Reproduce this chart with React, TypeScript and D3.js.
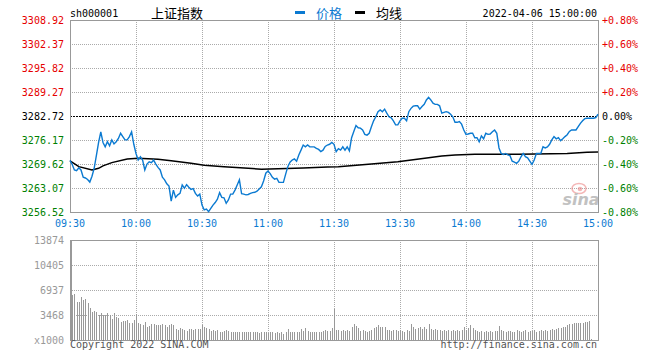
import { line, scaleLinear } from 'd3';

const timeLabels = ['09:30', '10:00', '10:30', '11:00', '11:30', '13:30', '14:00', '14:30', '15:00'];
const priceTicks = [3308.92, 3302.37, 3295.82, 3289.27, 3282.72, 3276.17, 3269.62, 3263.07, 3256.52];
const pctTicks = ['+0.80%', '+0.60%', '+0.40%', '+0.20%', '0.00%', '-0.20%', '-0.40%', '-0.60%', '-0.80%'];
const volumeTicks = ['13874', '10405', '6937', '3468', 'x1000'];
const volumeMax = 13874;
const prevClose = 3282.72;

// minute index (0 = 09:30, 120 = 11:30/13:00, 240 = 15:00) -> price
const priceValues = [
  3270.6, 3269.5, 3268.0, 3267.8, 3268.6, 3268.0, 3266.0, 3265.8, 3265.4, 3264.7,
  3266.3, 3268.5, 3272.0, 3275.5, 3278.4, 3275.5, 3274.3, 3275.7, 3274.6, 3276.2,
  3275.1, 3275.7, 3276.6, 3278.0, 3277.1, 3276.2, 3276.2, 3277.1, 3278.4, 3275.0,
  3272.5, 3270.7, 3271.6, 3270.7, 3268.0, 3269.6, 3270.2, 3270.0, 3270.7, 3269.6,
  3268.7, 3268.0, 3266.0, 3265.3, 3264.2, 3263.6, 3259.5, 3262.5, 3260.5, 3261.2,
  3261.6, 3263.9, 3263.0, 3264.0, 3263.3, 3262.7, 3262.9, 3261.6, 3260.9, 3261.4,
  3258.4, 3257.1, 3257.3, 3256.6, 3257.5, 3258.4, 3259.1, 3260.0, 3261.8, 3260.5,
  3260.4, 3258.9, 3259.8, 3261.4, 3261.4, 3262.5, 3263.9, 3265.3, 3261.5, 3261.4,
  3261.2, 3261.3, 3261.6, 3261.8, 3261.9, 3262.2, 3262.8, 3263.4, 3265.0, 3267.1,
  3267.7, 3267.0, 3266.0, 3265.5, 3265.7, 3264.6, 3264.6, 3264.6, 3266.8, 3268.9,
  3270.1, 3270.7, 3271.0, 3270.4, 3272.1, 3273.4, 3274.8, 3274.3, 3274.8, 3274.3,
  3274.3, 3274.3, 3273.9, 3273.6, 3273.0, 3273.4, 3274.4, 3274.8, 3275.0, 3275.5,
  3275.0, 3273.0, 3273.8, 3273.4, 3274.3, 3273.4, 3274.3, 3273.2, 3276.8, 3278.5,
  3280.1, 3279.5, 3279.4, 3278.9, 3277.7, 3277.5, 3278.0, 3279.8, 3281.4, 3282.5,
  3283.9, 3284.4, 3283.9, 3284.6, 3283.5, 3282.5, 3282.2, 3281.4, 3280.3, 3280.3,
  3281.4, 3282.1, 3282.1, 3281.4, 3283.9, 3284.8, 3285.4, 3285.5, 3285.5, 3284.6,
  3285.3, 3285.9, 3287.1, 3287.8, 3287.1, 3286.2, 3285.9, 3285.9, 3285.5, 3283.5,
  3283.7, 3283.9, 3283.7, 3283.2, 3282.5, 3281.0, 3281.0, 3281.2, 3280.5, 3278.9,
  3277.7, 3277.8, 3278.0, 3278.0, 3276.8, 3276.8, 3275.7, 3277.3, 3276.5, 3278.0,
  3277.7, 3277.8, 3278.4, 3278.9, 3278.0, 3274.0, 3272.5, 3272.2, 3272.5, 3272.1,
  3271.9, 3270.4, 3270.1, 3269.8, 3270.4, 3271.6, 3272.5, 3271.6, 3271.3, 3270.4,
  3269.5, 3270.7, 3272.5, 3272.5, 3272.5, 3274.3, 3274.0, 3274.3, 3275.0, 3276.2,
  3277.1, 3276.5, 3276.8, 3276.0, 3276.5, 3277.1, 3277.6, 3278.5, 3278.9, 3278.9,
  3278.9, 3279.8, 3280.7, 3281.4, 3282.0, 3282.1, 3282.1, 3282.1, 3282.1, 3282.3,
  3283.2,
];

const avgMinutes = [0, 4, 10, 13, 15, 19, 26, 31, 40, 46, 55, 61, 70, 81, 87, 106, 117, 122, 137, 149, 163, 169, 175, 184, 204, 226, 235, 240];
const avgValues = [
  3270.5, 3268.9, 3268.0, 3268.45, 3269.1, 3270.0, 3271.0, 3271.2, 3270.9, 3270.5,
  3269.8, 3269.3, 3268.9, 3268.45, 3268.2, 3268.5, 3268.8, 3268.9, 3269.6, 3270.25,
  3271.3, 3271.8, 3272.1, 3272.3, 3272.3, 3272.5, 3272.8, 3272.9,
];

const volumes = [
  7400, 6240, 6380, 5230, 5280, 5970, 5550, 5690, 5090, 4480,
  3840, 4020, 3840, 3470, 3700, 3470, 3470, 3700, 3470, 2960,
  3700, 3240, 3010, 2540, 2630, 2680, 2770, 2310, 2310, 2770,
  3610, 2310, 2170, 2080, 2450, 1850, 1900, 2200, 2200, 2150,
  2150, 2080, 2200, 2080, 1850, 2080, 2220, 2150, 1530, 1390,
  1620, 1530, 1390, 1250, 1530, 1530, 1390, 1530, 1530, 1480,
  2150, 1850, 1700, 1530, 1250, 1390, 1250, 1320, 1160, 1110,
  1250, 1390, 1300, 1110, 1160, 1160, 1160, 1110, 1160, 1160,
  1160, 1160, 1110, 1160, 1060, 1110, 1010, 1110, 1110, 1060,
  1000, 1110, 1110, 1000, 1110, 1000, 1060, 860, 1110, 1530,
  1110, 1110, 1160, 1110, 1160, 1530, 1250, 1620, 1250, 1160,
  1110, 1110, 1110, 1110, 1160, 1250, 1390, 1250, 1250, 1620,
  4300, 1390, 1390, 1250, 1390, 1250, 1390, 1300, 1850, 2220,
  1900, 1620, 1300, 1390, 1250, 1160, 1250, 1390, 1620, 1850,
  2150, 1850, 1850, 1850, 1390, 1390, 1250, 1390, 1390, 1250,
  1390, 1250, 1160, 1390, 1250, 2220, 1850, 1530, 1620, 1850,
  1530, 1850, 1530, 2220, 1530, 1390, 1530, 1390, 1390, 1250,
  1390, 1300, 1390, 1250, 1390, 1250, 1390, 1250, 1390, 1850,
  1390, 1620, 2080, 1620, 1390, 1250, 1160, 1250, 1160, 1250,
  1160, 1250, 1160, 1250, 1300, 1900, 1390, 1250, 1160, 1250,
  1250, 1160, 1110, 1390, 1250, 1160, 1250, 1390, 1160, 1250,
  1250, 1390, 1160, 1250, 1390, 1250, 1390, 1250, 1390, 1530,
  1390, 1530, 1620, 1620, 1850, 1850, 2080, 2220, 2220, 2310,
  2310, 2400, 2400, 2400, 2540, 2540, 2640, 200, 0, 0,
  0,
];

const MONO = '"DejaVu Sans Mono", monospace';
const CJK = '"Noto Sans CJK SC", sans-serif';
const BLUE = '#0b7ad1';
const RED = '#e60000';
const GREEN = '#007f00';
const GRID = '#aaaaaa';
const FRAME = '#999999';

function labelColor(value: number) {
  if (Math.abs(value - prevClose) < 0.005) return '#000';
  return value > prevClose ? RED : GREEN;
}

export default function App() {
  const width = 660;
  const height = 360;
  const left = 70;
  const right = 598;
  const priceTop = 20;
  const priceBottom = 212;
  const volTop = 240;
  const volBottom = 340;

  const x = scaleLinear().domain([0, 240]).range([left, right]);
  const y = scaleLinear()
    .domain([priceTicks[priceTicks.length - 1], priceTicks[0]])
    .range([priceBottom, priceTop]);
  const yVol = scaleLinear().domain([0, volumeMax]).range([volBottom, volTop]);

  const priceLine = line<number>()
    .x((_, i) => x(i))
    .y((d) => y(d));
  const avgLine = line<number>()
    .x((_, i) => x(avgMinutes[i]))
    .y((d) => y(d));

  const tickMinutes = timeLabels.map((_, i) => i * 30);
  const volGrid = [0, 1, 2, 3, 4].map((i) => volTop + (i * (volBottom - volTop)) / 4);

  return (
    <svg
      width={width}
      height={height}
      viewBox={`0 0 ${width} ${height}`}
      style={{ position: 'absolute', left: 0, top: 0, background: '#fff' }}
    >
      {/* header */}
      <text x={70} y={16.5} fontFamily={MONO} fontSize={10} fill="#000">
        sh000001
      </text>
      <text x={151} y={17.5} fontFamily={CJK} fontSize={13} fill="#000">
        上证指数
      </text>
      <rect x={295} y={11} width={10} height={3} fill={BLUE} />
      <text x={316} y={17.5} fontFamily={CJK} fontSize={13} fill={BLUE}>
        价格
      </text>
      <rect x={355} y={11} width={10} height={3} fill="#000" />
      <text x={376} y={17.5} fontFamily={CJK} fontSize={13} fill="#000">
        均线
      </text>
      <text x={597} y={16.5} textAnchor="end" fontFamily={MONO} fontSize={10} fill="#000">
        2022-04-06 15:00:00
      </text>

      {/* price grid */}
      {priceTicks.map((p, i) =>
        i === 0 || i === priceTicks.length - 1 || i === 4 ? null : (
          <line
            key={`hg-${i}`}
            x1={left}
            x2={right}
            y1={Math.round(y(p)) + 0.5}
            y2={Math.round(y(p)) + 0.5}
            stroke={GRID}
            strokeDasharray="1,1"
          />
        ),
      )}
      {tickMinutes.slice(1, -1).map((m) => (
        <line
          key={`vg-${m}`}
          x1={Math.round(x(m)) + 0.5}
          x2={Math.round(x(m)) + 0.5}
          y1={priceTop}
          y2={priceBottom}
          stroke={GRID}
          strokeDasharray="1,1"
        />
      ))}
      <line
        x1={left}
        x2={right}
        y1={Math.round(y(prevClose)) + 0.5}
        y2={Math.round(y(prevClose)) + 0.5}
        stroke="#000"
        strokeDasharray="2,1"
      />
      <rect
        x={left + 0.5}
        y={priceTop + 0.5}
        width={right - left}
        height={priceBottom - priceTop}
        fill="none"
        stroke={FRAME}
      />

      {/* sina watermark */}
      <g opacity={0.6}>
        <ellipse cx={579} cy={188.5} rx={7} ry={5} fill="none" stroke="#e88" strokeWidth={1.6} />
        <circle cx={580} cy={189} r={2.3} fill="#e88" />
        <text
          x={581}
          y={205}
          textAnchor="middle"
          fontFamily='"DejaVu Sans", sans-serif'
          fontSize={16}
          fontWeight="bold"
          fontStyle="italic"
          fill="#999"
        >
          sina
        </text>
      </g>

      {/* lines */}
      <path d={avgLine(avgValues) || ''} fill="none" stroke="#000" strokeWidth={1.5} />
      <path d={priceLine(priceValues) || ''} fill="none" stroke={BLUE} strokeWidth={1.4} />

      {/* price labels */}
      {priceTicks.map((p, i) => (
        <g key={`pl-${i}`}>
          <text
            x={64}
            y={y(p) + 3.5}
            textAnchor="end"
            fontFamily={MONO}
            fontSize={10}
            fill={labelColor(p)}
          >
            {p.toFixed(2)}
          </text>
          <text
            x={602}
            y={y(p) + 3.5}
            fontFamily={MONO}
            fontSize={10}
            fill={labelColor(p)}
          >
            {pctTicks[i]}
          </text>
        </g>
      ))}

      {/* time labels */}
      {timeLabels.map((t, i) => (
        <text
          key={t}
          x={x(tickMinutes[i])}
          y={227}
          textAnchor="middle"
          fontFamily={MONO}
          fontSize={10}
          fill={BLUE}
        >
          {t}
        </text>
      ))}

      {/* volume grid */}
      {volGrid.slice(1, -1).map((gy) => (
        <line
          key={`vh-${gy}`}
          x1={left}
          x2={right}
          y1={gy + 0.5}
          y2={gy + 0.5}
          stroke={GRID}
          strokeDasharray="1,1"
        />
      ))}
      {tickMinutes.slice(1, -1).map((m) => (
        <line
          key={`vv-${m}`}
          x1={Math.round(x(m)) + 0.5}
          x2={Math.round(x(m)) + 0.5}
          y1={volTop}
          y2={volBottom}
          stroke={GRID}
          strokeDasharray="1,1"
        />
      ))}

      {/* volume bars */}
      {volumes.map((v, i) =>
        v > 0 ? (
          <line
            key={`vb-${i}`}
            x1={Math.round(x(i)) + 0.5}
            x2={Math.round(x(i)) + 0.5}
            y1={volBottom}
            y2={Math.round(yVol(v))}
            stroke="#999"
            strokeWidth={1}
          />
        ) : null,
      )}
      <rect
        x={left + 0.5}
        y={volTop + 0.5}
        width={right - left}
        height={volBottom - volTop}
        fill="none"
        stroke={FRAME}
      />
      <line x1={left + 1} x2={left + 1} y1={volTop} y2={volBottom + 1} stroke={FRAME} strokeWidth={2} />

      {/* volume labels */}
      {volumeTicks.map((t, i) => (
        <text
          key={`vl-${t}`}
          x={64}
          y={volGrid[i] + 3.5}
          textAnchor="end"
          fontFamily={MONO}
          fontSize={10}
          fill="#999"
        >
          {t}
        </text>
      ))}

      {/* footer */}
      <text x={70} y={348} fontFamily={MONO} fontSize={10} fill="#555">
        Copyright 2022 SINA.COM
      </text>
      <text x={597} y={348} textAnchor="end" fontFamily={MONO} fontSize={10} fill="#555">
        http://finance.sina.com.cn
      </text>
    </svg>
  );
}
